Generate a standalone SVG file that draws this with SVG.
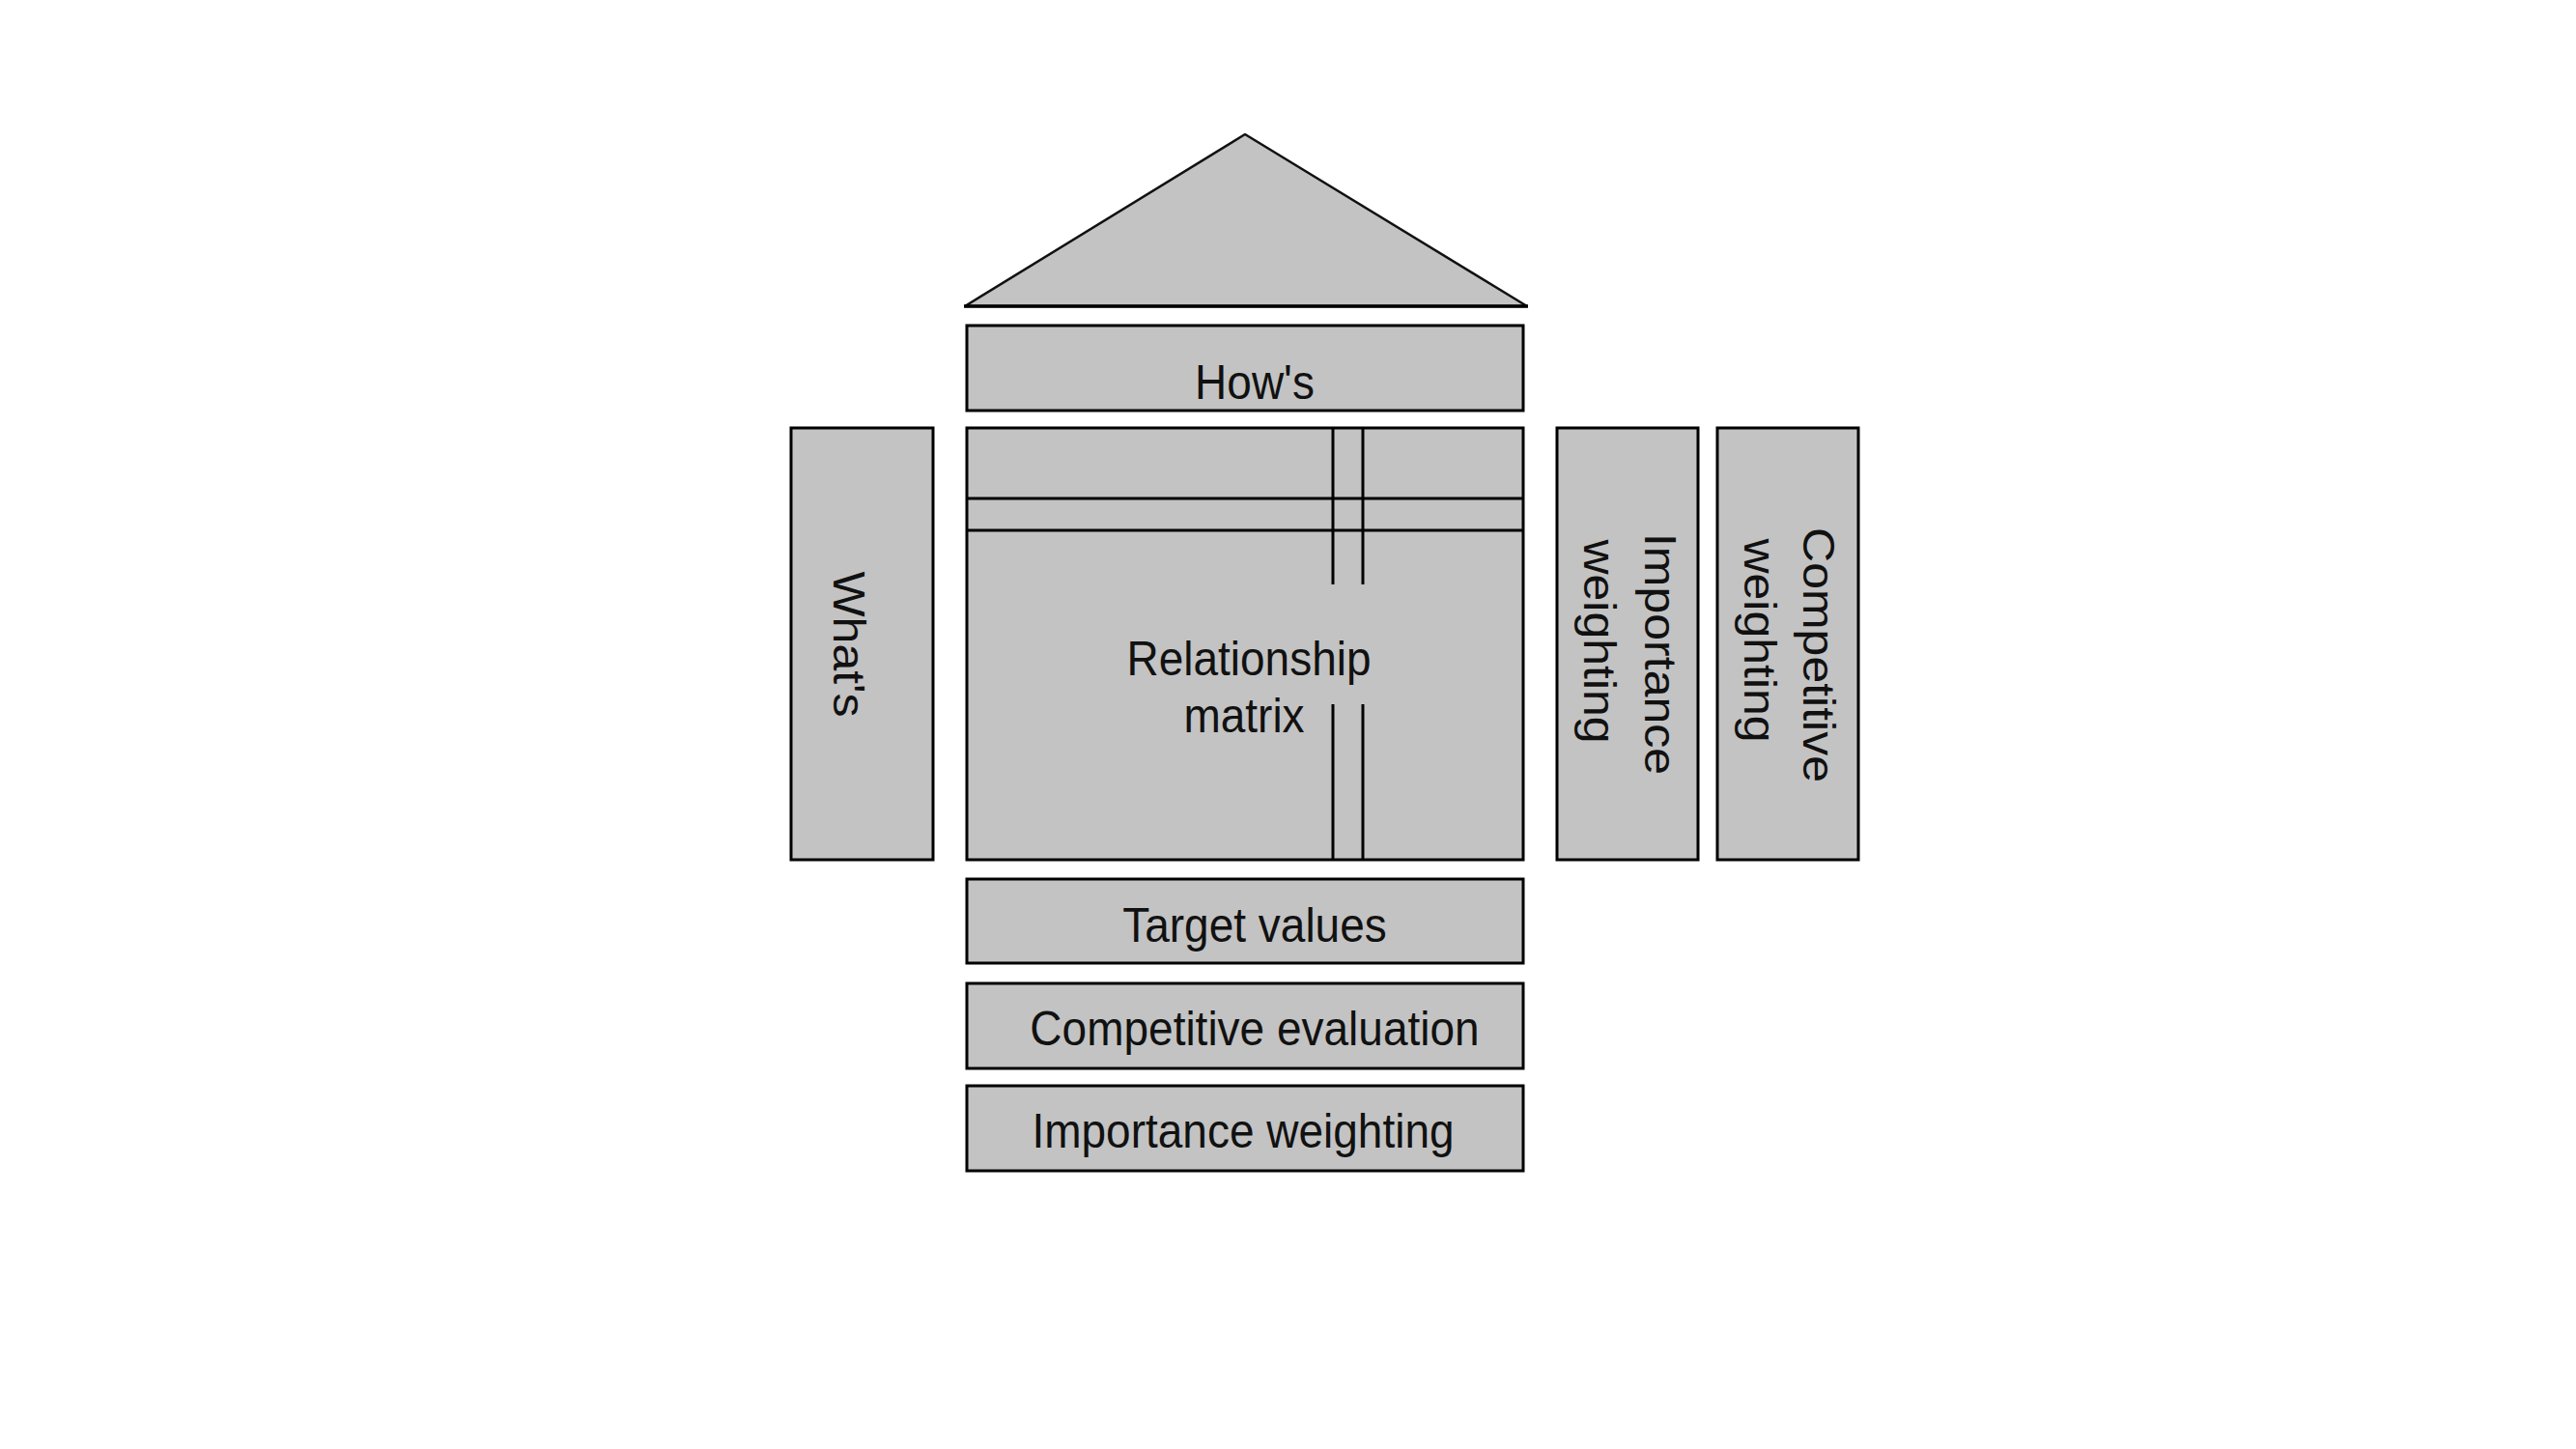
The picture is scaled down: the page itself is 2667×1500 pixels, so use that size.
<svg xmlns="http://www.w3.org/2000/svg" width="2667" height="1500" viewBox="0 0 2667 1500">
  <style>
    .box { fill: #c3c3c3; stroke: #000; stroke-width: 3; }
    .roof { fill: #c3c3c3; stroke: #111; stroke-width: 2.5; stroke-linejoin: bevel; }
    .grid { stroke: #000; stroke-width: 3; fill: none; }
    .lbl { font-family: "Liberation Sans", Arial, sans-serif; font-size: 50px; fill: #111; text-anchor: middle; }
  </style>
  <rect width="2667" height="1500" fill="#fff"/>

  <g id="roof">
    <polygon class="roof" points="1289,139 1581,317 999,317"/>
    <line x1="998" y1="317" x2="1582" y2="317" stroke="#000" stroke-width="3.5"/>
  </g>

  <g id="hows">
    <rect class="box" x="1001" y="337" width="576" height="88"/>
    <text class="lbl" transform="translate(1299,413) scale(0.92,1)">How's</text>
  </g>

  <g id="whats">
    <rect class="box" x="819" y="443" width="147" height="447"/>
    <text class="lbl" transform="translate(863,667) scale(0.92,1) rotate(90)">What's</text>
  </g>

  <g id="relationship-matrix">
    <rect class="box" x="1001" y="443" width="576" height="447"/>
    <line class="grid" x1="1001" y1="516" x2="1577" y2="516"/>
    <line class="grid" x1="1001" y1="549" x2="1577" y2="549"/>
    <line class="grid" x1="1380" y1="443" x2="1380" y2="605"/>
    <line class="grid" x1="1411" y1="443" x2="1411" y2="605"/>
    <line class="grid" x1="1380" y1="729" x2="1380" y2="890"/>
    <line class="grid" x1="1411" y1="729" x2="1411" y2="890"/>
    <text class="lbl" transform="translate(1293,699) scale(0.92,1)">Relationship</text>
    <text class="lbl" transform="translate(1288,758) scale(0.92,1)">matrix</text>
  </g>

  <g id="importance-weighting-side">
    <rect class="box" x="1612" y="443" width="146" height="447"/>
    <text class="lbl" transform="translate(1703,677) scale(0.92,1) rotate(90)">Importance</text>
    <text class="lbl" transform="translate(1640,664) scale(0.92,1) rotate(90)">weighting</text>
  </g>

  <g id="competitive-weighting">
    <rect class="box" x="1778" y="443" width="146" height="447"/>
    <text class="lbl" transform="translate(1867,678) scale(0.92,1) rotate(90)">Competitive</text>
    <text class="lbl" transform="translate(1806,663) scale(0.92,1) rotate(90)">weighting</text>
  </g>

  <g id="target-values">
    <rect class="box" x="1001" y="910" width="576" height="87"/>
    <text class="lbl" transform="translate(1299,975) scale(0.92,1)">Target values</text>
  </g>

  <g id="competitive-evaluation">
    <rect class="box" x="1001" y="1018" width="576" height="88"/>
    <text class="lbl" transform="translate(1299,1082) scale(0.92,1)">Competitive evaluation</text>
  </g>

  <g id="importance-weighting-bottom">
    <rect class="box" x="1001" y="1124" width="576" height="88"/>
    <text class="lbl" transform="translate(1287,1188) scale(0.92,1)">Importance weighting</text>
  </g>

  <g id="connectors"></g>
</svg>
